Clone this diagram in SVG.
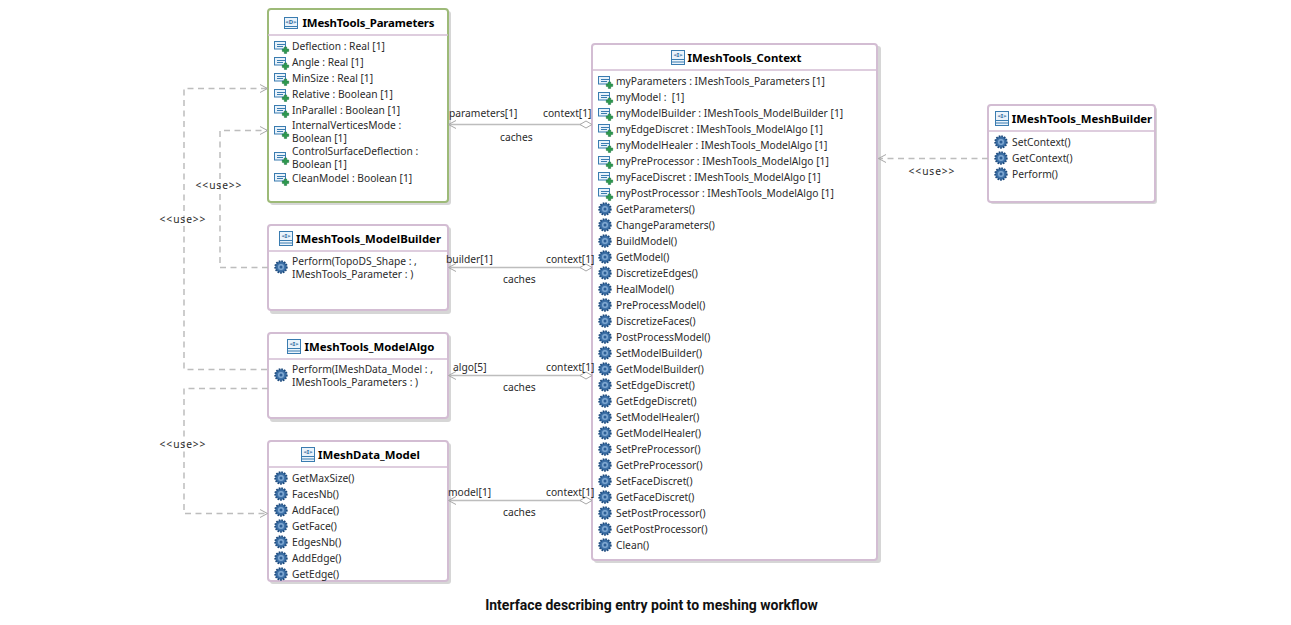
<svg xmlns="http://www.w3.org/2000/svg" xmlns:xlink="http://www.w3.org/1999/xlink" width="1291" height="625" viewBox="0 0 1291 625">
<style>
text{font-family:"Noto Sans","Open Sans",sans-serif;font-size:10.25px;fill:#2b2b2b}
.t{font-weight:700;font-size:11.4px;fill:#000;text-anchor:middle}
.c{font-family:Roboto,sans-serif;font-weight:700;font-size:14px;fill:#111;text-anchor:middle}
.box{fill:#fff;stroke:#d3bdd3;stroke-width:2}
.g{stroke:#9dba78}
.sh{fill:#bbb;opacity:.6}
.sep{stroke-width:1.5;fill:none;stroke:#d3bdd3}
.d{fill:none;stroke:#bdbdbd;stroke-width:1.5;stroke-dasharray:6 4.5}
.a{fill:none;stroke:#bdbdbd;stroke-width:1.5}
.h{fill:none;stroke:#a8a8a8;stroke-width:1}
.u{text-anchor:middle;letter-spacing:.9px}
</style>
<defs>
<g id="gear"><circle cx="7" cy="7" r="5.8" fill="#3a6ea5" stroke="#1d4a7c" stroke-width="1.8" stroke-dasharray="1.6 1.1"/><circle cx="7" cy="7" r="3.6" fill="#7fa8d2" stroke="#2d5f97" stroke-width=".6"/><circle cx="7" cy="7" r="1.5" fill="#2d5f97"/></g>
<g id="attr"><rect x=".5" y=".5" width="11" height="7.500" fill="#e8f2fb" stroke="#3a7cb0"/><path d="M3 3.500h8.500M3 5.500h6" stroke="#3a7cb0" fill="none"/><path d="M10.300 6h2.400v2h2v2.400h-2v2h-2.400v-2h-2v-2.400h2z" fill="#2e9a4f" stroke="#16703a" stroke-width=".5"/></g>
<g id="cls"><rect x=".5" y=".5" width="13" height="14" fill="#eaf3fb" stroke="#3a7cb0"/><path d="M.5 9.500h13M.5 12h13" stroke="#3a7cb0" fill="none"/><text x="7" y="7.300" style="font-size:6px;font-weight:700;fill:#2c6a9e;text-anchor:middle">&lt;I&gt;</text></g>
<g id="clsD"><rect x=".5" y=".5" width="13" height="11" fill="#eaf3fb" stroke="#3a7cb0"/><path d="M.5 9.500h13" stroke="#3a7cb0" fill="none"/><text x="7" y="7" style="font-size:6px;font-weight:700;fill:#2c6a9e;text-anchor:middle">&lt;D&gt;</text></g>
</defs>
<rect width="1291" height="625" fill="#fff"/>

<g id="IMeshTools_Parameters">
<rect class="sh" x="270" y="11" width="181" height="194" rx="3"/>
<rect class="box g" x="268" y="9" width="180" height="193" rx="3"/>
<path class="sep g" d="M268 35H448"/>
<use xlink:href="#clsD" x="284" y="17"/><text class="t" x="368.500" y="27" textLength="132">IMeshTools_Parameters</text>
<use xlink:href="#attr" x="274" y="41"/><text x="292" y="50">Deflection : Real [1]</text>
<use xlink:href="#attr" x="274" y="57"/><text x="292" y="66">Angle : Real [1]</text>
<use xlink:href="#attr" x="274" y="73"/><text x="292" y="82">MinSize : Real [1]</text>
<use xlink:href="#attr" x="274" y="89"/><text x="292" y="98">Relative : Boolean [1]</text>
<use xlink:href="#attr" x="274" y="105"/><text x="292" y="114">InParallel : Boolean [1]</text>
<use xlink:href="#attr" x="274" y="126"/><text x="292" y="129">InternalVerticesMode :</text><text x="292" y="142">Boolean [1]</text>
<use xlink:href="#attr" x="274" y="152"/><text x="292" y="155">ControlSurfaceDeflection :</text><text x="292" y="168">Boolean [1]</text>
<use xlink:href="#attr" x="274" y="173"/><text x="292" y="182">CleanModel : Boolean [1]</text>
</g>

<g id="IMeshTools_ModelBuilder">
<rect class="sh" x="270" y="227" width="181" height="87" rx="3"/>
<rect class="box" x="268" y="225" width="180" height="85" rx="3"/>
<path class="sep" d="M268 251H448"/>
<use xlink:href="#cls" x="279" y="231"/><text class="t" x="368.500" y="243">IMeshTools_ModelBuilder</text>
<use xlink:href="#gear" x="274" y="260"/><text x="292" y="265">Perform(TopoDS_Shape : ,</text><text x="292" y="278">IMeshTools_Parameter : )</text>
</g>

<g id="IMeshTools_ModelAlgo">
<rect class="sh" x="270" y="335" width="181" height="87" rx="3"/>
<rect class="box" x="268" y="333" width="180" height="85" rx="3"/>
<path class="sep" d="M268 359H448"/>
<use xlink:href="#cls" x="287" y="339"/><text class="t" x="369.500" y="351">IMeshTools_ModelAlgo</text>
<use xlink:href="#gear" x="274" y="368"/><text x="292" y="373">Perform(IMeshData_Model : ,</text><text x="292" y="386">IMeshTools_Parameters : )</text>
</g>

<g id="IMeshData_Model">
<rect class="sh" x="270" y="443" width="181" height="141" rx="3"/>
<rect class="box" x="268" y="441" width="180" height="140" rx="3"/>
<path class="sep" d="M268 467H448"/>
<use xlink:href="#cls" x="301" y="447"/><text class="t" x="369" y="459">IMeshData_Model</text>
<use xlink:href="#gear" x="274" y="471"/><text x="292" y="482">GetMaxSize()</text>
<use xlink:href="#gear" x="274" y="487"/><text x="292" y="498">FacesNb()</text>
<use xlink:href="#gear" x="274" y="503"/><text x="292" y="514">AddFace()</text>
<use xlink:href="#gear" x="274" y="519"/><text x="292" y="530">GetFace()</text>
<use xlink:href="#gear" x="274" y="535"/><text x="292" y="546">EdgesNb()</text>
<use xlink:href="#gear" x="274" y="551"/><text x="292" y="562">AddEdge()</text>
<use xlink:href="#gear" x="274" y="567"/><text x="292" y="578">GetEdge()</text>
</g>

<g id="IMeshTools_Context">
<rect class="sh" x="594" y="46" width="287" height="517" rx="3"/>
<rect class="box" x="592" y="44" width="285" height="516" rx="3"/>
<path class="sep" d="M592 70H877"/>
<use xlink:href="#cls" x="671" y="50"/><text class="t" x="744.500" y="62">IMeshTools_Context</text>
<use xlink:href="#attr" x="598" y="76"/><text x="616" y="85">myParameters : IMeshTools_Parameters [1]</text>
<use xlink:href="#attr" x="598" y="92"/><text x="616" y="101" xml:space="preserve">myModel :  [1]</text>
<use xlink:href="#attr" x="598" y="108"/><text x="616" y="117">myModelBuilder : IMeshTools_ModelBuilder [1]</text>
<use xlink:href="#attr" x="598" y="124"/><text x="616" y="133">myEdgeDiscret : IMeshTools_ModelAlgo [1]</text>
<use xlink:href="#attr" x="598" y="140"/><text x="616" y="149">myModelHealer : IMeshTools_ModelAlgo [1]</text>
<use xlink:href="#attr" x="598" y="156"/><text x="616" y="165">myPreProcessor : IMeshTools_ModelAlgo [1]</text>
<use xlink:href="#attr" x="598" y="172"/><text x="616" y="181">myFaceDiscret : IMeshTools_ModelAlgo [1]</text>
<use xlink:href="#attr" x="598" y="188"/><text x="616" y="197">myPostProcessor : IMeshTools_ModelAlgo [1]</text>
<use xlink:href="#gear" x="598" y="202"/><text x="616" y="213">GetParameters()</text>
<use xlink:href="#gear" x="598" y="218"/><text x="616" y="229">ChangeParameters()</text>
<use xlink:href="#gear" x="598" y="234"/><text x="616" y="245">BuildModel()</text>
<use xlink:href="#gear" x="598" y="250"/><text x="616" y="261">GetModel()</text>
<use xlink:href="#gear" x="598" y="266"/><text x="616" y="277">DiscretizeEdges()</text>
<use xlink:href="#gear" x="598" y="282"/><text x="616" y="293">HealModel()</text>
<use xlink:href="#gear" x="598" y="298"/><text x="616" y="309">PreProcessModel()</text>
<use xlink:href="#gear" x="598" y="314"/><text x="616" y="325">DiscretizeFaces()</text>
<use xlink:href="#gear" x="598" y="330"/><text x="616" y="341">PostProcessModel()</text>
<use xlink:href="#gear" x="598" y="346"/><text x="616" y="357">SetModelBuilder()</text>
<use xlink:href="#gear" x="598" y="362"/><text x="616" y="373">GetModelBuilder()</text>
<use xlink:href="#gear" x="598" y="378"/><text x="616" y="389">SetEdgeDiscret()</text>
<use xlink:href="#gear" x="598" y="394"/><text x="616" y="405">GetEdgeDiscret()</text>
<use xlink:href="#gear" x="598" y="410"/><text x="616" y="421">SetModelHealer()</text>
<use xlink:href="#gear" x="598" y="426"/><text x="616" y="437">GetModelHealer()</text>
<use xlink:href="#gear" x="598" y="442"/><text x="616" y="453">SetPreProcessor()</text>
<use xlink:href="#gear" x="598" y="458"/><text x="616" y="469">GetPreProcessor()</text>
<use xlink:href="#gear" x="598" y="474"/><text x="616" y="485">SetFaceDiscret()</text>
<use xlink:href="#gear" x="598" y="490"/><text x="616" y="501">GetFaceDiscret()</text>
<use xlink:href="#gear" x="598" y="506"/><text x="616" y="517">SetPostProcessor()</text>
<use xlink:href="#gear" x="598" y="522"/><text x="616" y="533">GetPostProcessor()</text>
<use xlink:href="#gear" x="598" y="538"/><text x="616" y="549">Clean()</text>
</g>

<g id="IMeshTools_MeshBuilder">
<rect class="sh" x="990" y="107" width="167" height="97" rx="3"/>
<rect class="box" x="988" y="105" width="167" height="97" rx="3"/>
<path class="sep" d="M988 131H1155"/>
<use xlink:href="#cls" x="995" y="111"/><text class="t" x="1082" y="123">IMeshTools_MeshBuilder</text>
<use xlink:href="#gear" x="994" y="135"/><text x="1012" y="146">SetContext()</text>
<use xlink:href="#gear" x="994" y="151"/><text x="1012" y="162">GetContext()</text>
<use xlink:href="#gear" x="994" y="167"/><text x="1012" y="178">Perform()</text>
</g>

<g id="connectors">
<path class="a" d="M449 124.500H582M449 267.500H582M449 375.500H582M449 500.500H582"/>
<path class="d" d="M267 88.500H184V369.500H268"/>
<path class="d" d="M268 267.500H220V130.500H267"/>
<path class="d" d="M268 388.500H184V513.500H267"/>
<path class="d" d="M988 158.500H878"/>
<path class="h" d="M456 120.500 448.500 124.500 456 128.500M456 263.500 448.500 267.500 456 271.500M456 371.500 448.500 375.500 456 379.500M456 496.500 448.500 500.500 456 504.500"/>
<path class="h" d="M260 84.500 267.500 88.500 260 92.500M260 126.500 267.500 130.500 260 134.500M260 509.500 267.500 513.500 260 517.500M886 154.500 878.500 158.500 886 162.500"/>
<path fill="#fff" stroke="#a8a8a8" d="M580 124.500 586 121 592 124.500 586 128ZM580 267.500 586 264 592 267.500 586 271ZM580 375.500 586 372 592 375.500 586 379ZM580 500.500 586 497 592 500.500 586 504Z"/>
<text x="449" y="117">parameters[1]</text><text x="543" y="117">context[1]</text><text x="500" y="141">caches</text>
<text x="446" y="263">builder[1]</text><text x="546" y="263">context[1]</text><text x="503" y="283">caches</text>
<text x="453" y="371">algo[5]</text><text x="546" y="371">context[1]</text><text x="503" y="391">caches</text>
<text x="448" y="496">model[1]</text><text x="546" y="496">context[1]</text><text x="503" y="516">caches</text>
<text class="u" x="219" y="189">&lt;&lt;use&gt;&gt;</text>
<text class="u" x="183" y="223">&lt;&lt;use&gt;&gt;</text>
<text class="u" x="183" y="448">&lt;&lt;use&gt;&gt;</text>
<text class="u" x="932" y="175">&lt;&lt;use&gt;&gt;</text>
</g>

<text class="c" x="651.500" y="610">Interface describing entry point to meshing workflow</text>
</svg>
